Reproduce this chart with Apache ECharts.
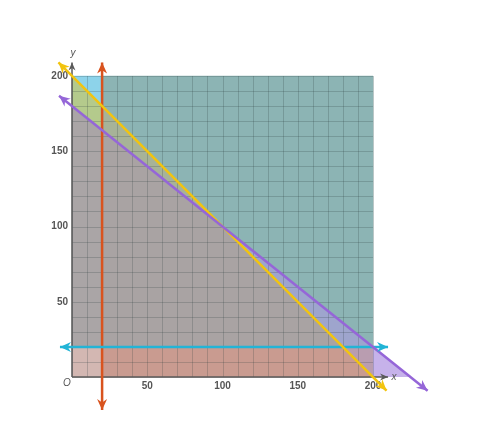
<!DOCTYPE html>
<html><head><meta charset="utf-8">
<script src="https://cdn.jsdelivr.net/npm/echarts@6/dist/echarts.min.js"></script>
<style>html,body{margin:0;padding:0;background:#fff}#c{width:477px;height:444px}</style>
</head><body><div id="c"></div>
<script>
// ---- data ----
var xTicks = [50, 100, 150, 200];
var yTicks = [50, 100, 150, 200];
var gridValues = [0,10,20,30,40,50,60,70,80,90,100,110,120,130,140,150,160,170,180,190,200];
// inequalities a*x + b*y <= c (shaded side)
var ineqRed    = [-1, 0, -20];   // x >= 20
var ineqCyan   = [0, -1, -20];   // y >= 20
var ineqYellow = [1, 1, 200];    // x + y <= 200
var ineqPurple = [4, 5, 900];    // 4x + 5y <= 900
var redLine    = [[20, -22], [20, 209]];
var cyanLine   = [[-8, 20], [210, 20]];
var yellowLine = [[-9, 209], [209, -9]];
var purpleLine = [[-8.6, 186.9], [236.3, -9.1]];
var xAxisLine  = [[0, 0], [210, 0]];
var yAxisLine  = [[0, 0], [0, 209]];
var box = [[0,0],[200,0],[200,200],[0,200]];
var outsideBox = [[200,0],[260,0],[260,20],[200,20]];

var regionColors = {
  '0100': '#8dd3ea',
  '0110': '#b4ca8c',
  '0111': '#aaa5a6',
  '0011': '#d3b7b2',
  '1011': '#c99b90',
  '1100': '#8cb4b4',
  '1111': '#a9a3a3',
  '1110': '#a7b398',
  '1101': '#9ea5cd',
  '1001': '#b99db0',
  '1000': '#c6b2ea',
  '0000': '#ffffff'
};

function clip(poly, a, b, c) {
  var out = [], n = poly.length;
  for (var i = 0; i < n; i++) {
    var P = poly[i], Q = poly[(i + 1) % n];
    var fp = a * P[0] + b * P[1] - c, fq = a * Q[0] + b * Q[1] - c;
    if (fp <= 0) out.push(P);
    if ((fp < 0 && fq > 0) || (fp > 0 && fq < 0)) {
      var t = fp / (fp - fq);
      out.push([P[0] + t * (Q[0] - P[0]), P[1] + t * (Q[1] - P[1])]);
    }
  }
  return out;
}
function area(p){var s=0;for(var i=0;i<p.length;i++){var q=p[(i+1)%p.length];s+=p[i][0]*q[1]-q[0]*p[i][1];}return Math.abs(s/2);}

var ineqs = [ineqRed, ineqCyan, ineqYellow, ineqPurple];

function arrowHead(tip, from, len, wid, color) {
  var dx = tip[0] - from[0], dy = tip[1] - from[1];
  var L = Math.sqrt(dx*dx + dy*dy); dx /= L; dy /= L;
  var bx = tip[0] - dx*len, by = tip[1] - dy*len;
  var nx = -dy, ny = dx;
  var notch = [tip[0] - dx*len*0.7, tip[1] - dy*len*0.7];
  return {type:'polygon', shape:{points:[tip,[bx+nx*wid/2,by+ny*wid/2],notch,[bx-nx*wid/2,by-ny*wid/2]]}, style:{fill:color}, z2: 20};
}

function renderItem(params, api) {
  var ch = [];
  var C = function(p){return api.coord(p);};
  // filled regions
  for (var m = 0; m < 16; m++) {
    var poly = box.slice(), key = '';
    for (var k = 0; k < 4; k++) {
      var bit = (m >> (3 - k)) & 1; key += bit;
      var q = ineqs[k];
      poly = bit ? clip(poly, q[0], q[1], q[2]) : clip(poly, -q[0], -q[1], -q[2]);
      if (poly.length < 3) break;
    }
    if (poly.length >= 3 && area(poly) > 0.01 && regionColors[key]) {
      ch.push({type:'polygon', shape:{points: poly.map(C)}, style:{fill: regionColors[key], stroke: regionColors[key], lineWidth: 0.5}});
    }
  }
  var out = clip(outsideBox, ineqPurple[0], ineqPurple[1], ineqPurple[2]);
  if (out.length >= 3) ch.push({type:'polygon', shape:{points: out.map(C)}, style:{fill: regionColors['1000']}});
  // grid lines
  gridValues.forEach(function(v){
    var a = C([v,0]), b = C([v,200]);
    ch.push({type:'line', shape:{x1:Math.round(a[0])+0.5,y1:a[1],x2:Math.round(b[0])+0.5,y2:b[1]}, style:{stroke:'rgba(40,60,60,0.22)', lineWidth:1}, z2: 5});
    var c1 = C([0,v]), d = C([200,v]);
    ch.push({type:'line', shape:{x1:c1[0],y1:Math.round(c1[1])+0.5,x2:d[0],y2:Math.round(d[1])+0.5}, style:{stroke:'rgba(40,60,60,0.22)', lineWidth:1}, z2: 5});
  });
  // axes
  [xAxisLine, yAxisLine].forEach(function(seg){
    var a = C(seg[0]), b = C(seg[1]);
    ch.push({type:'line', shape:{x1:a[0],y1:a[1],x2:b[0],y2:b[1]}, style:{stroke:'#5a5a5a', lineWidth:1.5}, z2: 10});
    ch.push(arrowHead(b, a, 8, 7, '#5a5a5a'));
  });
  // colored lines
  var lines = [[redLine,'#d9531e'],[cyanLine,'#22b4d6'],[yellowLine,'#f2c40f'],[purpleLine,'#9566d8']];
  lines.forEach(function(l){
    var a = C(l[0][0]), b = C(l[0][1]);
    ch.push({type:'line', shape:{x1:a[0],y1:a[1],x2:b[0],y2:b[1]}, style:{stroke:l[1], lineWidth:2.5}, z2: 15});
    ch.push(arrowHead(a, b, 11, 10, l[1]));
    ch.push(arrowHead(b, a, 11, 10, l[1]));
  });
  // labels
  var font = 'bold 10px "Liberation Sans", Arial, sans-serif';
  xTicks.forEach(function(v){
    var p = C([v,0]);
    ch.push({type:'text', style:{text:String(v), x:p[0], y:p[1]+9, textAlign:'center', textVerticalAlign:'middle', font:font, fill:'#555'}, z2: 12});
  });
  yTicks.forEach(function(v){
    var p = C([0,v]);
    ch.push({type:'text', style:{text:String(v), x:p[0]-4, y:p[1], textAlign:'right', textVerticalAlign:'middle', font:font, fill:'#555'}, z2: 12});
  });
  var o = C([0,0]);
  var ital = 'italic 10px "Liberation Sans", Arial, sans-serif';
  ch.push({type:'text', style:{text:'O', x:o[0]-5, y:o[1]+6, textAlign:'center', textVerticalAlign:'middle', font:ital, fill:'#555'}, z2: 12});
  var yl = C([0,215]);
  ch.push({type:'text', style:{text:'y', x:yl[0]+1, y:yl[1], textAlign:'center', textVerticalAlign:'middle', font:ital, fill:'#555'}, z2: 12});
  var xl = C([210,0]);
  ch.push({type:'text', style:{text:'x', x:xl[0]+6, y:xl[1], textAlign:'center', textVerticalAlign:'middle', font:ital, fill:'#555'}, z2: 12});
  return {type:'group', children: ch};
}

var chart = echarts.init(document.getElementById('c'));
chart.setOption({
  animation: false,
  grid: {left: 41.9, top: 45.9, width: 391.3, height: 376.25},
  xAxis: {type:'value', min:-20, max:240, show:false},
  yAxis: {type:'value', min:-30, max:220, show:false},
  series: [{type:'custom', renderItem: renderItem, data:[0], silent:true}]
});
</script></body></html>
